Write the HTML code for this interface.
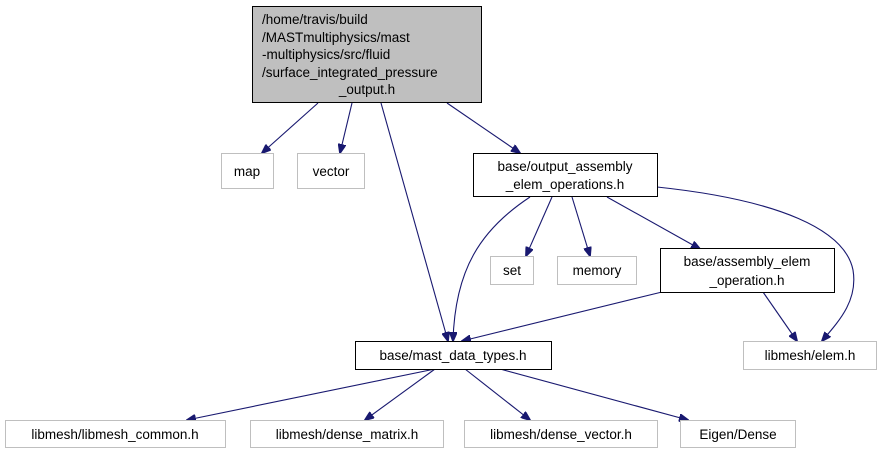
<!DOCTYPE html>
<html><head><style>
body{margin:0;background:#fff;width:880px;height:453px;overflow:hidden}
svg{position:absolute;left:0;top:0}
text{font-family:"Liberation Sans",sans-serif;font-size:13.5px;fill:#000}
</style></head><body>
<svg width="880" height="453" viewBox="0 0 880 453">
<defs><marker id="a" markerWidth="10" markerHeight="8" refX="9" refY="4" orient="auto" markerUnits="userSpaceOnUse"><path d="M0,0 L10,4 L0,8 z" fill="#191970" stroke="#191970"/></marker></defs>
<g fill="none" stroke="#191970" stroke-width="1.1" marker-end="url(#a)">
<path d="M318,103 L262,153"/>
<path d="M352,103 L340,153"/>
<path d="M381,103 L448,341"/>
<path d="M447,103 L520,153"/>
<path d="M530,197 C480,230 455,270 453,341"/>
<path d="M552,197 L526,256"/>
<path d="M572,197 L590,256"/>
<path d="M607,197 L700,249"/>
<path d="M657,187 C780,200 845,230 853,270 C858,300 840,320 822,341"/>
<path d="M763,292 L797,341"/>
<path d="M662,292 L462,341"/>
<path d="M435,369 L187,420"/>
<path d="M435,369 L365,420"/>
<path d="M465,369 L530,420"/>
<path d="M500,369 L688,420"/>
</g>
<g stroke-width="1">
<rect x="252.5" y="6.5" width="229" height="96" fill="#bfbfbf" stroke="#000"/>
<rect x="221.5" y="153.5" width="52" height="35" fill="#fff" stroke="#bfbfbf"/>
<rect x="297.5" y="153.5" width="67" height="35" fill="#fff" stroke="#bfbfbf"/>
<rect x="473.5" y="153.5" width="184" height="43" fill="#fff" stroke="#000"/>
<rect x="490.5" y="256.5" width="43" height="28" fill="#fff" stroke="#bfbfbf"/>
<rect x="557.5" y="256.5" width="79" height="28" fill="#fff" stroke="#bfbfbf"/>
<rect x="660.5" y="248.5" width="174" height="44" fill="#fff" stroke="#000"/>
<rect x="743.5" y="341.5" width="133" height="28" fill="#fff" stroke="#bfbfbf"/>
<rect x="355.5" y="341.5" width="196" height="28" fill="#fff" stroke="#000"/>
<rect x="5.5" y="420.5" width="220" height="27" fill="#fff" stroke="#bfbfbf"/>
<rect x="250.5" y="420.5" width="193" height="27" fill="#fff" stroke="#bfbfbf"/>
<rect x="464.5" y="420.5" width="193" height="27" fill="#fff" stroke="#bfbfbf"/>
<rect x="680.5" y="420.5" width="115" height="27" fill="#fff" stroke="#bfbfbf"/>
</g>
<text x="262" y="24">/home/travis/build</text>
<text x="262" y="42">/MASTmultiphysics/mast</text>
<text x="262" y="59">-multiphysics/src/fluid</text>
<text x="262" y="77">/surface_integrated_pressure</text>
<text x="367" y="94" text-anchor="middle">_output.h</text>
<g text-anchor="middle">
<text x="247" y="176">map</text>
<text x="331" y="176">vector</text>
<text x="565" y="171">base/output_assembly</text>
<text x="565" y="189">_elem_operations.h</text>
<text x="512" y="275">set</text>
<text x="597" y="275">memory</text>
<text x="747" y="266">base/assembly_elem</text>
<text x="747" y="285">_operation.h</text>
<text x="810" y="360">libmesh/elem.h</text>
<text x="453" y="360">base/mast_data_types.h</text>
<text x="115" y="439">libmesh/libmesh_common.h</text>
<text x="347" y="439">libmesh/dense_matrix.h</text>
<text x="561" y="439">libmesh/dense_vector.h</text>
<text x="738" y="439">Eigen/Dense</text>
</g>
</svg>
</body></html>
